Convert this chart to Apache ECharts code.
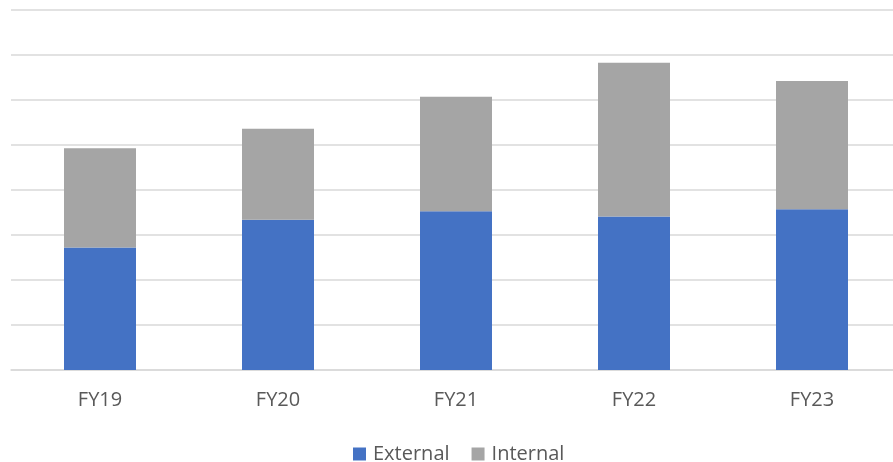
<!DOCTYPE html>
<html>
<head>
<meta charset="utf-8">
<script src="https://cdn.jsdelivr.net/npm/echarts@6/dist/echarts.min.js"></script>
<style>html,body{margin:0;padding:0;background:#fff;overflow:hidden;}#c{width:901px;height:462px;}</style>
</head>
<body>
<div id="c"></div>
<script>
const categories = ['FY19', 'FY20', 'FY21', 'FY22', 'FY23'];
const externalValues = [2.72, 3.34, 3.53, 3.41, 3.57];
const internalValues = [2.21, 2.02, 2.54, 3.42, 2.85];
const seriesNames = ['External', 'Internal'];

const chart = echarts.init(document.getElementById('c'), null, {renderer: 'canvas'});
const font = '"Open Sans", "Noto Sans", sans-serif';
chart.setOption({
  animation: false,
  backgroundColor: '#ffffff',
  grid: {left: 11, top: 10, right: 0, height: 360, containLabel: false},
  legend: {
    data: seriesNames,
    left: 353, top: 444, padding: 0,
    itemWidth: 13, itemHeight: 13, itemGap: 22,
    icon: 'rect',
    textStyle: {fontFamily: font, fontSize: 20, color: '#595959', padding: [0, 0, 0, 2]}
  },
  xAxis: {
    type: 'category',
    data: categories,
    axisLine: {lineStyle: {color: '#d9d9d9', width: 1.5}},
    axisTick: {show: false},
    axisLabel: {fontFamily: font, fontSize: 20, color: '#595959', margin: 20}
  },
  yAxis: {
    type: 'value', min: 0, max: 8, interval: 1,
    axisLabel: {show: false},
    axisLine: {show: false}, axisTick: {show: false},
    splitLine: {lineStyle: {color: '#d9d9d9', width: 1.5}}
  },
  series: [
    {name: seriesNames[0], type: 'bar', stack: 'a', data: externalValues, barWidth: 72,
     itemStyle: {color: '#4472c4'}},
    {name: seriesNames[1], type: 'bar', stack: 'a', data: internalValues, barWidth: 72,
     itemStyle: {color: '#a5a5a5'}}
  ]
});
</script>
</body>
</html>
